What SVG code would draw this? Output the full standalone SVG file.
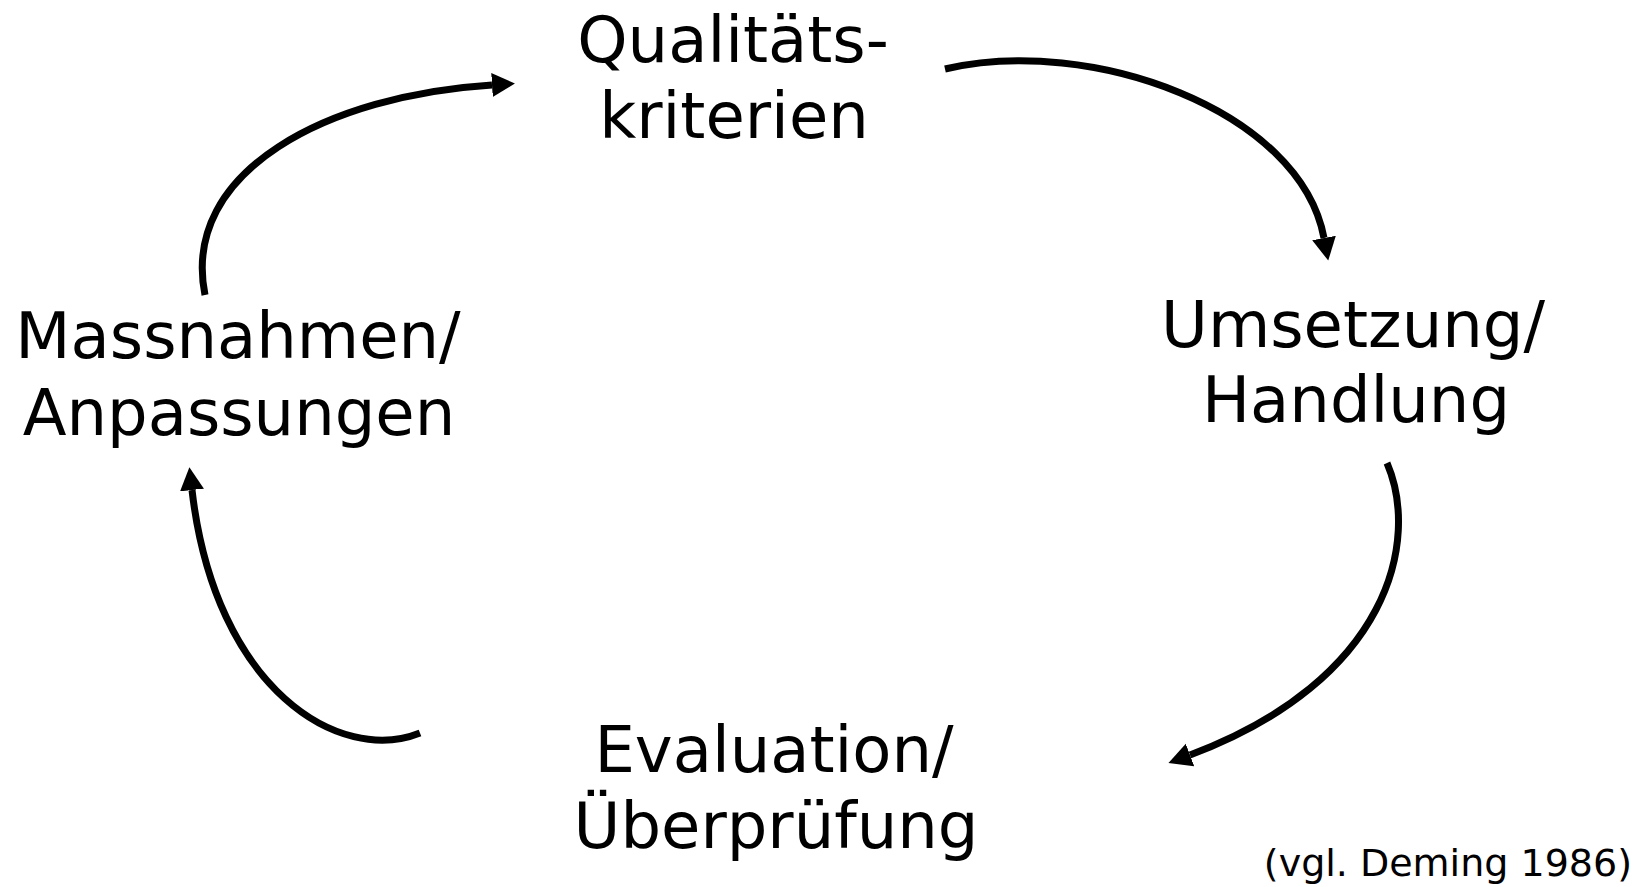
<svg xmlns="http://www.w3.org/2000/svg" width="1639" height="887" viewBox="0 0 1639 887">
<style>
.lbl{font-family:"DejaVu Sans","Verdana",sans-serif;font-size:64px;fill:#000;text-anchor:middle}
.src{font-family:"DejaVu Sans","Verdana",sans-serif;font-size:38px;fill:#000;text-anchor:end}
.arc{fill:none;stroke:#000;stroke-width:7;stroke-linecap:butt;marker-end:url(#ah)}
</style>
<defs>
<marker id="ah" markerUnits="userSpaceOnUse" markerWidth="24" markerHeight="26" refX="0" refY="12" orient="auto" viewBox="0 0 24 24">
<path d="M0,0 L23,12 L0,24 z" fill="#000"/>
</marker>
</defs>
<rect width="1639" height="887" fill="#fff"/>
<g id="connectors">
<path class="arc" d="M945,69 C1090,35 1300,110 1324,238"/>
<path class="arc" d="M1387,463 C1420,540 1390,680 1190,755"/>
<path class="arc" d="M420,733 C340,765 215,690 192,490"/>
<path class="arc" d="M205,295 C180,170 330,95 492,85"/>
</g>
<g id="node-qualitaet">
<text class="lbl" x="733" y="62">Qualitäts-</text>
<text class="lbl" x="734" y="138">kriterien</text>
</g>
<g id="node-umsetzung">
<text class="lbl" x="1353" y="347">Umsetzung/</text>
<text class="lbl" x="1356" y="422">Handlung</text>
</g>
<g id="node-evaluation">
<text class="lbl" x="774" y="772">Evaluation/</text>
<text class="lbl" x="776" y="848">Überprüfung</text>
</g>
<g id="node-massnahmen">
<text class="lbl" x="238" y="358">Massnahmen/</text>
<text class="lbl" x="239" y="435">Anpassungen</text>
</g>
<g id="source">
<text class="src" x="1632" y="876">(vgl. Deming 1986)</text>
</g>
</svg>
